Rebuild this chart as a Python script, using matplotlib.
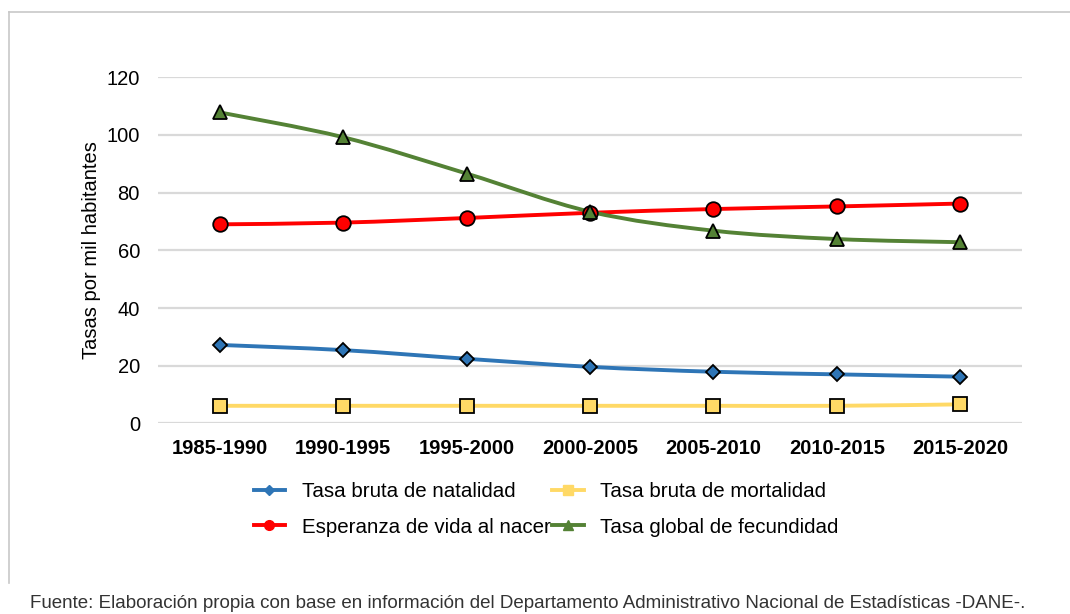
import matplotlib
matplotlib.use("Agg")
import matplotlib.pyplot as plt
from matplotlib.path import Path
from matplotlib.patches import PathPatch
from matplotlib.lines import Line2D
import numpy as np

plt.rcParams['font.family'] = ['Liberation Sans', 'DejaVu Sans']

periods = ["1985-1990", "1990-1995", "1995-2000", "2000-2005", "2005-2010", "2010-2015", "2015-2020"]
natalidad = [27.2, 25.4, 22.4, 19.6, 17.9, 17.0, 16.2]
mortalidad = [6.1, 6.1, 6.1, 6.1, 6.1, 6.1, 6.6]
esperanza = [69.0, 69.6, 71.2, 73.0, 74.3, 75.2, 76.2]
fecundidad = [107.8, 99.2, 86.6, 73.4, 66.8, 63.9, 62.8]
yticks = [0, 20, 40, 60, 80, 100, 120]

fig = plt.figure(figsize=(10.70, 6.14), dpi=100)
ax = fig.add_axes([158/1070, 1-423.4/614, (1022-158)/1070, 346.2/614])

def smooth_path(x, y):
    pts = np.column_stack([x, y]).astype(float)
    n = len(pts)
    verts = [pts[0]]
    codes = [Path.MOVETO]
    for i in range(n - 1):
        p0 = pts[i - 1] if i > 0 else pts[i]
        p1 = pts[i]
        p2 = pts[i + 1]
        p3 = pts[i + 2] if i + 2 < n else pts[i + 1]
        c1 = p1 + (p2 - p0) / 6.0
        c2 = p2 - (p3 - p1) / 6.0
        verts += [c1, c2, p2]
        codes += [Path.CURVE4] * 3
    return Path(verts, codes)

x = np.arange(len(periods))
series = [
    (natalidad, '#2E75B6', 'D', 7.5, "Tasa bruta de natalidad"),
    (mortalidad, '#FFD966', 's', 10, "Tasa bruta de mortalidad"),
    (esperanza, '#FF0000', 'o', 10.5, "Esperanza de vida al nacer"),
    (fecundidad, '#548235', '^', 10, "Tasa global de fecundidad"),
]
handles = {}
for vals, col, mk, ms, lab in series:
    patch = PathPatch(smooth_path(x, vals), facecolor='none', edgecolor=col, lw=2.8, zorder=3, capstyle='round')
    ax.add_patch(patch)
for vals, col, mk, ms, lab in series:
    ax.plot(x, vals, linestyle='none', marker=mk, markersize=ms, markerfacecolor=col,
            markeredgecolor='black', markeredgewidth=1.3, zorder=4)
    handles[lab] = Line2D([], [], color=col, lw=2.8, marker=mk, markersize=7 if mk != 'D' else 5,
                          markerfacecolor=col, markeredgecolor=col)

ax.set_xlim(-0.5, 6.5)
ax.set_ylim(0, 120)
ax.set_yticks(yticks)
ax.set_yticklabels([str(t) for t in yticks], fontsize=14.5, color='#000000')
ax.set_xticks(x)
ax.set_xticklabels(periods, fontsize=14.5, fontweight='bold')
ax.grid(axis='y', color='#D9D9D9', lw=1.6)
ax.set_axisbelow(True)
for s in ax.spines.values():
    s.set_visible(False)
ax.tick_params(axis='both', length=0)
ax.tick_params(axis='y', pad=13)
ax.tick_params(axis='x', pad=11)
ax.set_ylabel("Tasas por mil habitantes", fontsize=14.5, labelpad=4)

order = ["Tasa bruta de natalidad", "Esperanza de vida al nacer",
         "Tasa bruta de mortalidad", "Tasa global de fecundidad"]
fig.legend([handles[k] for k in order], order, ncol=2, frameon=False,
           loc='center', bbox_to_anchor=(546/1070, 1-509.5/614), fontsize=14.8,
           handlelength=1.55, handletextpad=0.8, columnspacing=0.05, labelspacing=0.78)

# frame lines
fig.add_artist(Line2D([9/1070, 9/1070], [1-12/614, 1-583/614], color='#C8C8C8', lw=1.2, transform=fig.transFigure))
fig.add_artist(Line2D([9/1070, 1.0], [1-12/614, 1-12/614], color='#C8C8C8', lw=1.2, transform=fig.transFigure))

fig.text(30/1070, 1-604/614, "Fuente: Elaboración propia con base en información del Departamento Administrativo Nacional de Estadísticas -DANE-.",
         fontsize=13.5, color='#333333', ha='left', va='center')

fig.savefig("out.png", dpi=100, facecolor='white')
